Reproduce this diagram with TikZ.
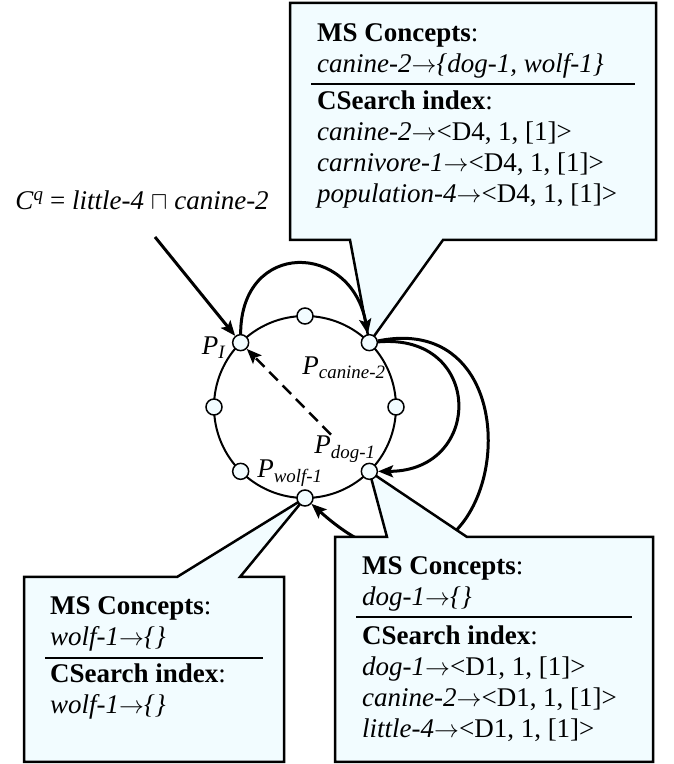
\documentclass[tikz,border=0pt]{standalone}
\usepackage{fontspec}
\setmainfont{Liberation Serif}
\usetikzlibrary{arrows.meta}
\definecolor{boxfill}{RGB}{242,252,255}
\newcommand{\maps}{$\rightarrow$}
\pgfdeclarelayer{back}
\pgfdeclarelayer{links}
\pgfdeclarelayer{boxes}
\pgfsetlayers{back,links,boxes,main}

\begin{document}
\begin{tikzpicture}[x=1pt,y=1pt,
    peer/.style={circle,draw,line width=1.5pt,fill=boxfill,minimum size=16pt,inner sep=0pt},
    plabel/.style={font=\fontsize{27}{30}\selectfont,inner sep=1pt},
    link/.style={line width=3pt,-{Stealth[length=15pt,width=12pt,inset=3pt]}},
    callout/.style={draw,line width=2.5pt,fill=boxfill,line join=miter},
    boxtext/.style={font=\fontsize{27}{31}\selectfont,anchor=base west,inner sep=0pt},
    sep/.style={line width=2.5pt}]
  \useasboundingbox (0,0) rectangle (674,764);
  \coordinate (ring) at (305,357);
  \begin{scope}[shift={(305,357)}]
    \node[peer] (pI) at (135:91) {};
    \node[peer] (pcan) at (45:91) {};
    \node[peer] (pdog) at (-45:91) {};
    \node[peer] (pwolf) at (-90:91) {};
    \foreach \a in {0,90,180,225}
      \node[peer] (p\a) at (\a:91) {};
  \end{scope}

  % peer labels
  \node[plabel] (lI) at (214,416) {\textit{P}\textsubscript{\textit{I}}};
  \node[plabel] (lcan) at (344,396) {\textit{P}\textsubscript{\textit{canine-2}}};
  \node[plabel] (ldog) at (345,315) {\textit{P}\textsubscript{\textit{dog-1}}};
  \node[plabel] (lwolf) at (290,291) {\textit{P}\textsubscript{\textit{wolf-1}}};

  % query
  \node[plabel,anchor=base] (query) at (142,554)
    {\textit{C}\textsuperscript{\textit{q}} = \textit{little-4} $\sqcap$ \textit{canine-2}};
  \coordinate (qstart) at (155,527);

  % top callout
  \begin{pgfonlayer}{back}
    \draw[callout] (290,761) -- (656,761) -- (656,524) -- (443,524)
      -- (pcan.center) -- (350,524) -- (290,524) -- cycle;
  \end{pgfonlayer}
  \node[boxtext] (canms) at (317,722)
    {\begin{tabular}[t]{@{}l@{}}\textbf{MS Concepts}:\\ \textit{canine-2}\maps\textit{\{dog-1, wolf-1\}}\end{tabular}};
  \draw[sep] (311,680) -- (635,680);
  \node[boxtext] (cancs) at (317,654)
    {\begin{tabular}[t]{@{}l@{}}\textbf{CSearch index}:\\
      \textit{canine-2}\maps<D4, 1, [1]>\\
      \textit{carnivore-1}\maps<D4, 1, [1]>\\
      \textit{population-4}\maps<D4, 1, [1]>\end{tabular}};

  % ring and routing
  \begin{pgfonlayer}{links}
    \draw[line width=2pt] (ring) circle[radius=91];
    \draw[link] (qstart) -- (pI);
    \draw[link] (pI) to[out=90,in=100,looseness=1.9] (pcan);
    \draw[link] (pcan) to[out=5,in=0,looseness=2.1] (pdog);
    \draw[link] (pcan) .. controls (560,460) and (500,90) .. (pwolf);
    \draw[line width=2.5pt,dash pattern=on 12pt off 7pt,
      -{Stealth[length=15pt,width=12pt,inset=3pt]}] (ldog) -- (pI);
  \end{pgfonlayer}

  % bottom callouts
  \begin{pgfonlayer}{boxes}
    \draw[callout] (24,187) -- (177,187) -- (pwolf.center) -- (240,187)
      -- (284,187) -- (284,2) -- (24,2) -- cycle;
    \draw[callout] (335,227) -- (387,227) -- (pdog.center) -- (467,227)
      -- (653,227) -- (653,2) -- (335,2) -- cycle;
  \end{pgfonlayer}
  \node[boxtext] (wolfms) at (50,149)
    {\begin{tabular}[t]{@{}l@{}}\textbf{MS Concepts}:\\ \textit{wolf-1}\maps\textit{\{\}}\end{tabular}};
  \draw[sep] (45,106) -- (263,106);
  \node[boxtext] (wolfcs) at (50,81)
    {\begin{tabular}[t]{@{}l@{}}\textbf{CSearch index}:\\ \textit{wolf-1}\maps\textit{\{\}}\end{tabular}};

  \node[boxtext] (dogms) at (362,189)
    {\begin{tabular}[t]{@{}l@{}}\textbf{MS Concepts}:\\ \textit{dog-1}\maps\textit{\{\}}\end{tabular}};
  \draw[sep] (356,147) -- (632,147);
  \node[boxtext] (dogcs) at (362,119)
    {\begin{tabular}[t]{@{}l@{}}\textbf{CSearch index}:\\
      \textit{dog-1}\maps<D1, 1, [1]>\\
      \textit{canine-2}\maps<D1, 1, [1]>\\
      \textit{little-4}\maps<D1, 1, [1]>\end{tabular}};
\end{tikzpicture}
\end{document}
